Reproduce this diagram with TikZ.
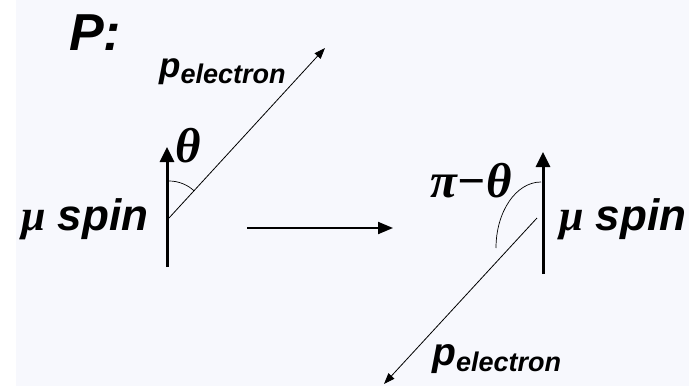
\documentclass[tikz,border=0pt]{standalone}
\usepackage{fontspec}
\setmainfont{Liberation Sans}
\newfontfamily\greekfont{Liberation Serif}
\usetikzlibrary{arrows.meta}
\definecolor{bgblue}{RGB}{247,248,253}
\newcommand{\pelec}[1]{{\fontsize{#1}{#1}\selectfont\bfseries\itshape p}\raisebox{-6pt}{\fontsize{27}{27}\selectfont\bfseries\itshape electron}}
\newcommand{\muspin}{{\fontsize{44}{44}\selectfont{\greekfont\bfseries\itshape μ} \bfseries\itshape spin}}

\begin{document}
\begin{tikzpicture}[x=1pt, y=-1pt,
    label/.style={anchor=base west, inner sep=0pt},
    greek/.style={label, font=\fontsize{49}{49}\selectfont\greekfont\bfseries\itshape},
    spin/.style={-{Triangle[length=15pt, width=14pt]}, line width=3pt},
    momentum/.style={-{Triangle[length=11pt, width=8pt]}, line width=0.8pt},
    angle/.style={line width=0.7pt}
]
\useasboundingbox (0,0) rectangle (689,386);
\fill[bgblue] (16,0) rectangle (689,386);

% Nodes
\node[label, font=\fontsize{52}{52}\selectfont\bfseries\itshape] (ptitle) at (69,50) {P:};
\node[label] (pelL) at (159,77) {\pelec{35}};
\node[label] (spinL) at (21,230) {\muspin};
\node[greek] (thetaL) at (175,162) {θ};
\node[label] (pelR) at (432,365) {\pelec{39}};
\node[label] (spinR) at (559,230) {\muspin};
\node[greek] (thetaR) at (430,197) {π−θ};

% Coordinates
\coordinate (spinLbot) at (167,267);
\coordinate (spinLtop) at (167,147);
\coordinate (oL) at (169,218);
\coordinate (tipL) at (325,48);
\coordinate (arrowA) at (247,228);
\coordinate (arrowB) at (393,228);
\coordinate (spinRbot) at (543,274);
\coordinate (spinRtop) at (543,152);
\coordinate (oR) at (537,218);
\coordinate (tipR) at (384,384);
\coordinate (arcR) at (541,182);

% Connections
\draw[spin] (spinLbot) -- (spinLtop);
\draw[momentum] (oL) -- (tipL);
\draw[angle] (oL) ++(90:37pt) arc[start angle=90, end angle=47, radius=37pt];
\draw[-{Triangle[length=15pt, width=12pt]}, line width=2pt] (arrowA) -- (arrowB);
\draw[spin] (spinRbot) -- (spinRtop);
\draw[momentum] (oR) -- (tipR);
\draw[angle] (arcR) arc[start angle=90, end angle=180, x radius=45pt, y radius=66pt];

\end{tikzpicture}
\end{document}
